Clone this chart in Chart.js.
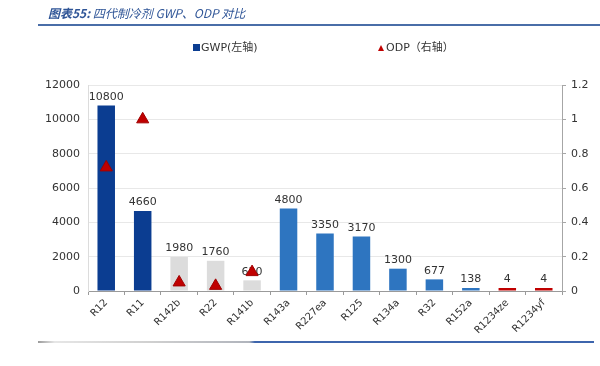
<!DOCTYPE html>
<html>
<head>
<meta charset="utf-8">
<script src="https://cdn.jsdelivr.net/npm/chart.js@4"></script>
<style>
  body { margin: 0; width: 600px; height: 366px; background: #fff; position: relative; overflow: hidden; font-family: "DejaVu Sans", sans-serif; }
  #title { position: absolute; left: 48px; top: 4px; font-size: 12px; font-style: italic; color: #2f5597; font-family: "Noto Sans CJK SC", "DejaVu Sans", sans-serif; }
  #title b { font-weight: bold; }
  #topline { position: absolute; left: 38px; right: 0; top: 24px; height: 2px; background: #4a6ea8; }
  #bottomline { position: absolute; left: 38px; width: 556px; top: 341px; height: 2px; background: linear-gradient(to right, #9a9a9a 0%, #e6e6e6 3%, #d0d0d0 20%, #b0b4bc 38%, #3d65ad 39%, #3d65ad 100%); }
  .leg { position: absolute; top: 38px; font-size: 11px; color: #333; font-family: "DejaVu Sans", "Noto Sans CJK SC", sans-serif; }
  .leg span.cn { font-family: "Noto Sans CJK SC", sans-serif; }
  #leg1 { left: 193px; }
  #leg2 { left: 378px; }
  .sq { display: inline-block; width: 7px; height: 7px; background: #0b3d91; margin-right: 1px; }
  .tri { display: inline-block; width: 0; height: 0; border-left: 3.5px solid transparent; border-right: 3.5px solid transparent; border-bottom: 6px solid #c00000; margin-right: 2px; }
  #wrap { position: absolute; left: 0; top: 0; width: 600px; height: 366px; }
</style>
</head>
<body>
<div id="wrap"><canvas id="chart" width="600" height="366"></canvas></div>
<div id="title"><b>图表55:</b> 四代制冷剂 GWP、ODP 对比</div>
<div id="topline"></div>
<div id="bottomline"></div>
<div class="leg" id="leg1"><span class="sq"></span>GWP(<span class="cn">左轴</span>)</div>
<div class="leg" id="leg2"><span class="tri"></span>ODP（<span class="cn">右轴</span>）</div>
<script>
// refrigerants on the x axis
const refrigerants = ["R12", "R11", "R142b", "R22", "R141b", "R143a", "R227ea", "R125", "R134a", "R32", "R152a", "R1234ze", "R1234yf"];
// GWP, left axis
const gwp = [10800, 4660, 1980, 1760, 620, 4800, 3350, 3170, 1300, 677, 138, 4, 4];
// ODP, right axis (only the ones with a marker)
const odp = [0.72, 1, 0.05, 0.03, 0.11, null, null, null, null, null, null, null, null];
// generation of each refrigerant -> bar colour
const generation = [1, 1, 2, 2, 2, 3, 3, 3, 3, 3, 3, 4, 4];
const genColors = { 1: "#0b3d91", 2: "#dcdcdc", 3: "#2e75c0", 4: "#c00000" };

const gwpTicks = [0, 2000, 4000, 6000, 8000, 10000, 12000];
const odpTicks = [0, 0.2, 0.4, 0.6, 0.8, 1, 1.2];

const barColors = generation.map((g) => genColors[g]);

// draws the GWP numbers above the bars, before the triangles go on top
const barLabels = {
  id: "barLabels",
  afterDatasetDraw(chart, args) {
    if (args.index !== 1) return;
    const ctx = chart.ctx;
    ctx.save();
    ctx.font = "11px 'DejaVu Sans'";
    ctx.fillStyle = "#333";
    ctx.textAlign = "center";
    ctx.textBaseline = "bottom";
    args.meta.data.forEach((bar, i) => {
      ctx.fillText(String(gwp[i]), bar.x, bar.y - 3);
    });
    ctx.restore();
  },
};

const ctx = document.getElementById("chart").getContext("2d");
const chart = new Chart(ctx, {
  type: "bar",
  data: {
    labels: refrigerants,
    datasets: [
      {
        type: "line",
        label: "ODP（右轴）",
        data: odp,
        yAxisID: "y1",
        showLine: false,
        pointStyle: "triangle",
        pointRadius: 7,
        pointBackgroundColor: "#c00000",
        pointBorderColor: "#a00000",
        pointBorderWidth: 1,
        order: 0,
      },
      {
        label: "GWP(左轴)",
        data: gwp,
        yAxisID: "y",
        backgroundColor: barColors,
        barPercentage: 0.48,
        categoryPercentage: 1,
        minBarLength: 3,
        order: 1,
      },
    ],
  },
  options: {
    responsive: false,
    animation: false,
    layout: { padding: { top: 85, left: 0, right: 0, bottom: 0 } },
    plugins: { legend: { display: false }, tooltip: { enabled: false } },
    scales: {
      x: {
        afterFit: (s) => { s.height = 75; },
        grid: { drawOnChartArea: false, tickLength: 4, color: "#9a9a9a" },
        border: { color: "#9a9a9a" },
        ticks: { minRotation: 45, maxRotation: 45, color: "#333", font: { size: 10, family: "DejaVu Sans" }, padding: 2 },
      },
      y: {
        position: "left",
        min: 0,
        max: 12000,
        afterFit: (s) => { s.width = 88; },
        afterBuildTicks: (s) => { s.ticks = gwpTicks.map((v) => ({ value: v })); },
        grid: { color: "#e8e8e8", drawTicks: false },
        border: { color: "#dcdcdc" },
        ticks: { color: "#333", font: { size: 11, family: "DejaVu Sans" }, padding: 8, callback: (v) => String(v) },
      },
      y1: {
        position: "right",
        min: 0,
        max: 1.2,
        afterFit: (s) => { s.width = 38; },
        afterBuildTicks: (s) => { s.ticks = odpTicks.map((v) => ({ value: v })); },
        grid: { drawOnChartArea: false, tickLength: 4, color: "#a6a6a6" },
        border: { color: "#a6a6a6" },
        ticks: { color: "#333", font: { size: 11, family: "DejaVu Sans" }, padding: 5, callback: (v) => String(Math.round(v * 10) / 10) },
      },
    },
  },
  plugins: [barLabels],
});
</script>
</body>
</html>
